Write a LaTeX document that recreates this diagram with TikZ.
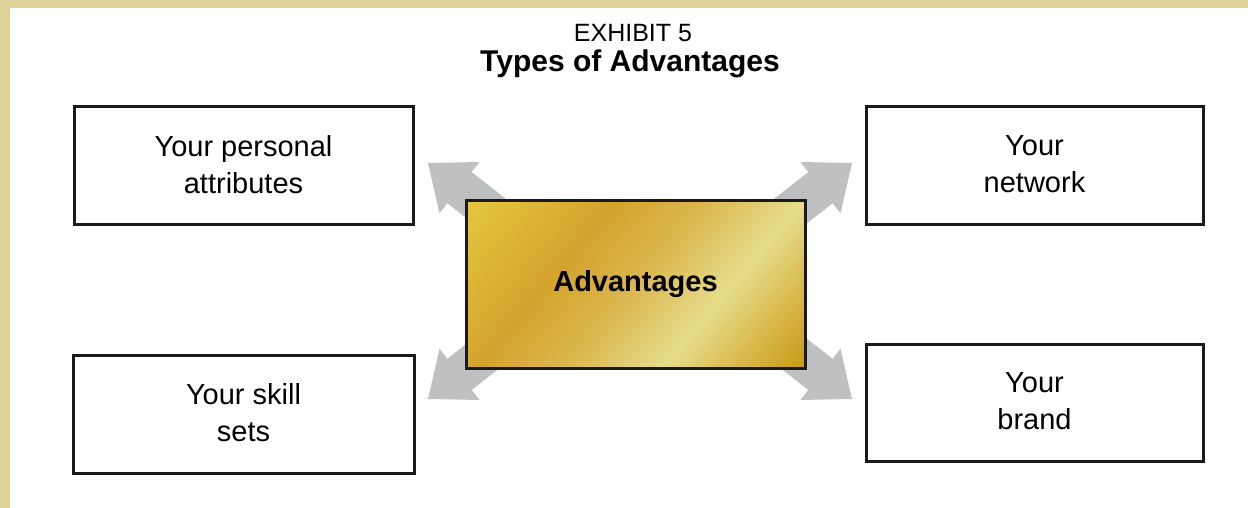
\documentclass[tikz,border=0pt]{standalone}
\usepackage{fontspec}
\setmainfont{Liberation Sans}
\usetikzlibrary{arrows.meta,calc}

\definecolor{framebeige}{HTML}{DDD199}
\definecolor{arrowgray}{HTML}{BEC0C2}
\definecolor{boxline}{HTML}{1A1A1A}
\definecolor{goldA}{HTML}{E5C73F}
\definecolor{goldB}{HTML}{D4A32D}
\definecolor{goldC}{HTML}{DBB74E}
\definecolor{goldD}{HTML}{E6DC8C}
\definecolor{goldE}{HTML}{DAB94C}
\definecolor{goldF}{HTML}{C69A17}

% metallic gold foil, stops laid out across the central band
\pgfdeclarehorizontalshading{goldfoil}{100bp}{%
  color(0bp)=(goldA); color(23bp)=(goldA); color(40bp)=(goldB);
  color(50bp)=(goldC); color(61bp)=(goldD); color(69bp)=(goldE);
  color(77bp)=(goldF); color(100bp)=(goldF)}

\tikzset{
  infobox/.style={draw=boxline, line width=3pt, fill=white,
    minimum width=339pt, minimum height=117pt, align=center, inner sep=0pt,
    font=\fontsize{29}{37}\selectfont,
    execute at end node={\rule[-3pt]{0pt}{3pt}}},
  bigarrow/.style={draw=arrowgray, line width=39.5pt,
    -{Triangle[length=40pt, width=65pt, line width=0pt]}},
}

\begin{document}
\begin{tikzpicture}[x=1pt,y=-1pt]
  \useasboundingbox (0,0) rectangle (1248,508);
  % page frame
  \fill[framebeige] (0,0) rectangle (1248,508);
  \fill[white] (10,8) rectangle (1248,508);

  % headings
  \node[anchor=base, inner sep=0pt, font=\fontsize{25}{29}\selectfont]
    (exhibit) at (633,42) {EXHIBIT 5};
  \node[anchor=base, inner sep=0pt, font=\bfseries\fontsize{30}{35}\selectfont]
    (title) at (630,72) {Types of Advantages};

  % arrow tips and their hidden starts behind the centre box
  \coordinate (tl) at (428,163);
  \coordinate (tr) at (852,163);
  \coordinate (bl) at (428,399);
  \coordinate (br) at (852,399);
  \coordinate (tl0) at (554,261.5);
  \coordinate (tr0) at (726,261.5);
  \coordinate (bl0) at (554,300.5);
  \coordinate (br0) at (726,300.5);

  \draw[bigarrow] (tl0) -- (tl);
  \draw[bigarrow] (tr0) -- (tr);
  \draw[bigarrow] (bl0) -- (bl);
  \draw[bigarrow] (br0) -- (br);

  % centre box: gold foil shaded on a square, clipped to the box
  \coordinate (advc) at (635.5,284);
  \begin{scope}
    \clip ($(advc)+(-169.5,-84)$) rectangle ($(advc)+(169.5,84)$);
    \shade[shading=goldfoil, shading angle=-40]
      ($(advc)+(-170,-170)$) rectangle ($(advc)+(170,170)$);
  \end{scope}
  \node[draw=boxline, line width=3pt, minimum width=339pt, minimum height=168pt,
        inner sep=0pt, font=\bfseries\fontsize{29}{34}\selectfont]
    (adv) at (advc) {Advantages};

  % the four kinds of advantage
  \node[infobox] (personal) at (243.5,165.5) {Your personal\\attributes};
  \node[infobox, minimum width=341pt, minimum height=118pt]
    (skills) at (243.5,414) {Your skill\\sets};
  \node[infobox, minimum width=337pt] (network) at (1034.5,165.5) {Your\\network};
  \node[infobox, minimum width=337pt] (brand) at (1034.5,403) {Your\\brand};
\end{tikzpicture}
\end{document}
